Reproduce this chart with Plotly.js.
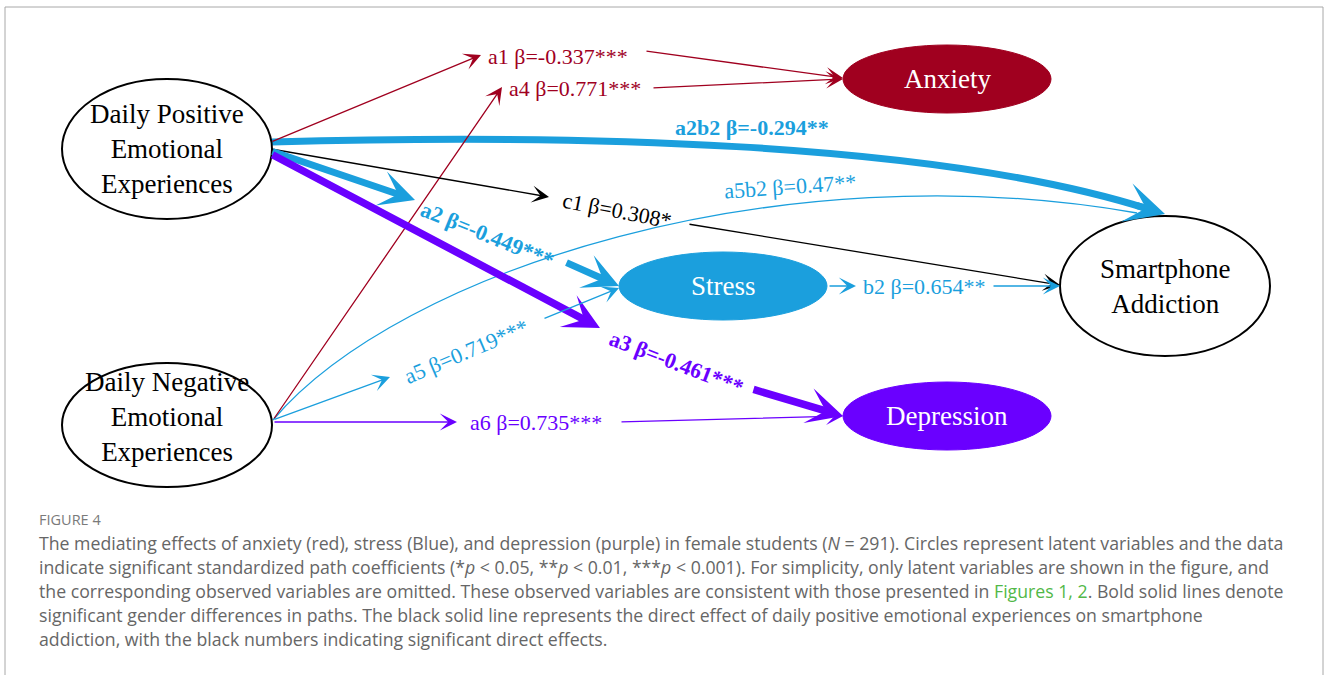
<!DOCTYPE html>
<html>
<head>
<meta charset="utf-8">
<script src="https://cdn.plot.ly/plotly-3.0.1.min.js"></script>
<style>html,body{margin:0;padding:0;background:#fff;}#chart{width:1328px;height:675px;}</style>
</head>
<body>
<div id="chart"></div>
<script>
// ---------------- DATA ----------------
const nodeIds = ['DPEE', 'DNEE', 'ANX', 'STR', 'DEP', 'SA'];
const nodeLabels = ['Daily Positive<br>Emotional<br>Experiences', 'Daily Negative<br>Emotional<br>Experiences',
  'Anxiety', 'Stress', 'Depression', 'Smartphone<br>Addiction'];
const pathIds = ['a1', 'a4', 'a2b2', 'c1', 'a2', 'a3', 'a5b2', 'a5', 'a6', 'b2'];
const pathBetas = ['-0.337', '0.771', '-0.294', '0.308', '-0.449', '-0.461', '0.47', '0.719', '0.735', '0.654'];
const pathStars = ['***', '***', '**', '*', '***', '***', '**', '***', '***', '**'];
const captionHead = 'FIGURE 4';
const captionLines = [
  'The mediating effects of anxiety (red), stress (Blue), and depression (purple) in female students (<i>N</i> = 291). Circles represent latent variables and the data',
  'indicate significant standardized path coefficients (*<i>p</i> &lt; 0.05, **<i>p</i> &lt; 0.01, ***<i>p</i> &lt; 0.001). For simplicity, only latent variables are shown in the figure, and',
  'the corresponding observed variables are omitted. These observed variables are consistent with those presented in <span style="color:#52b848">Figures 1, 2</span>. Bold solid lines denote',
  'significant gender differences in paths. The black solid line represents the direct effect of daily positive emotional experiences on smartphone',
  'addiction, with the black numbers indicating significant direct effects.'
];

// ---------------- STYLE / LAYOUT GEOMETRY ----------------
const RED = '#a0001f', BLUE = '#1b9fdd', PURPLE = '#6a00ff', BLACK = '#000000';
const SERIF = 'Liberation Serif, Times New Roman, serif';
const CAPFONT = 'Open Sans, sans-serif';
const nodeGeom = {
  DPEE: {cx: 167, cy: 149, rx: 105, ry: 70, fill: '#ffffff', line: BLACK, txt: BLACK, ty: 149},
  DNEE: {cx: 167, cy: 425, rx: 105, ry: 62, fill: '#ffffff', line: BLACK, txt: BLACK, ty: 417},
  ANX:  {cx: 947, cy: 79, rx: 104, ry: 34, fill: RED, line: RED, txt: '#ffffff', ty: 79},
  STR:  {cx: 723, cy: 286, rx: 104, ry: 34, fill: BLUE, line: BLUE, txt: '#ffffff', ty: 286},
  DEP:  {cx: 947, cy: 416, rx: 104, ry: 34, fill: PURPLE, line: PURPLE, txt: '#ffffff', ty: 416},
  SA:   {cx: 1165, cy: 286, rx: 105, ry: 70, fill: '#ffffff', line: BLACK, txt: BLACK, ty: 286}
};
const pathGeom = {
  a1:   {c: RED, bold: false, lx: 558, ly: 56, ang: 0, w: 1.3, hs: 2.2,
         seg: [[271, 142, 481, 55], [645, 51, 843, 78]]},
  a4:   {c: RED, bold: false, lx: 575, ly: 88, ang: 0, w: 1.3, hs: 2.2,
         seg: [[273, 420, 502, 87], [652, 88, 843, 79]]},
  a2b2: {c: BLUE, bold: true, lx: 752, ly: 127, ang: 0, w: 7, hs: 0.95,
         curve: [[272, 142], [560, 134], [930, 140], [1148, 209]], head: [1135, 205, 1165, 214]},
  c1:   {c: BLACK, bold: false, lx: 617, ly: 210, ang: 11, w: 1.3, hs: 2.2,
         seg: [[271, 149, 549, 197], [688, 224, 1060, 285]]},
  a2:   {c: BLUE, bold: true, lx: 487, ly: 234, ang: 22, w: 7, hs: 0.85,
         seg: [[271, 151, 415, 200], [565, 262, 619, 286]]},
  a3:   {c: PURPLE, bold: true, lx: 676, ly: 362, ang: 21, w: 7.5, hs: 0.8,
         seg: [[271, 154, 600, 328], [752, 389, 843, 416]]},
  a5b2: {c: BLUE, bold: false, lx: 790, ly: 186, ang: -4, w: 1.3, hs: 2.2,
         curve: [[273, 420], [400, 270], [780, 150], [1137, 213]]},
  a5:   {c: BLUE, bold: false, lx: 466, ly: 351, ang: -23, w: 1.3, hs: 2.2,
         seg: [[273, 420, 390, 377], [543, 319, 619, 288]]},
  a6:   {c: PURPLE, bold: false, lx: 536, ly: 422, ang: 0, w: 1.3, hs: 2.2,
         seg: [[273, 422, 457, 422], [620, 422, 843, 416]]},
  b2:   {c: BLUE, bold: false, lx: 924, ly: 286, ang: 0, w: 1.3, hs: 2.2,
         seg: [[828, 286, 856, 286], [992, 286, 1060, 286]]}
};

// ---------------- BUILD ----------------
const shapes = [];
const annotations = [];

shapes.push({type: 'rect', xref: 'x', yref: 'y', x0: 5, x1: 1323, y0: 7, y1: 720,
  line: {color: '#a8a8a8', width: 1}, fillcolor: 'rgba(0,0,0,0)', layer: 'below'});

pathIds.forEach(function (id) {
  const g = pathGeom[id];
  if (g.curve) {
    const p = g.curve;
    shapes.push({type: 'path', xref: 'x', yref: 'y',
      path: 'M' + p[0][0] + ',' + p[0][1] + ' C' + p[1][0] + ',' + p[1][1] + ' ' + p[2][0] + ',' + p[2][1] + ' ' + p[3][0] + ',' + p[3][1],
      line: {color: g.c, width: g.w}, fillcolor: 'rgba(0,0,0,0)'});
    if (g.head) {
      annotations.push({xref: 'x', yref: 'y', axref: 'x', ayref: 'y', x: g.head[2], y: g.head[3],
        ax: g.head[0], ay: g.head[1], text: '', showarrow: true, arrowhead: 3,
        arrowwidth: g.w, arrowsize: g.hs, arrowcolor: g.c, standoff: 0});
    }
  }
});

nodeIds.forEach(function (id, i) {
  const n = nodeGeom[id];
  shapes.push({type: 'circle', xref: 'x', yref: 'y', x0: n.cx - n.rx, x1: n.cx + n.rx,
    y0: n.cy - n.ry, y1: n.cy + n.ry, fillcolor: n.fill,
    line: {color: n.line, width: n.fill === '#ffffff' ? 2 : 1}});
  annotations.push({xref: 'x', yref: 'y', x: n.cx, y: n.ty, text: nodeLabels[i], showarrow: false,
    font: {family: SERIF, size: 27, color: n.txt}, align: 'center', xanchor: 'center', yanchor: 'middle'});
});

pathIds.forEach(function (id, i) {
  const g = pathGeom[id];
  (g.seg || []).forEach(function (s) {
    annotations.push({xref: 'x', yref: 'y', axref: 'x', ayref: 'y', x: s[2], y: s[3], ax: s[0], ay: s[1],
      text: '', showarrow: true, arrowhead: 3, arrowwidth: g.w, arrowsize: g.hs,
      arrowcolor: g.c, standoff: 0});
  });
  let label = id + ' β=' + pathBetas[i] + pathStars[i];
  if (g.bold) label = '<b>' + label + '</b>';
  annotations.push({xref: 'x', yref: 'y', x: g.lx, y: g.ly, text: label, showarrow: false,
    textangle: g.ang, font: {family: SERIF, size: 22, color: g.c}, xanchor: 'center', yanchor: 'middle'});
});

annotations.push({xref: 'x', yref: 'y', x: 37, y: 519, text: captionHead, showarrow: false,
  xanchor: 'left', yanchor: 'middle', font: {family: CAPFONT, size: 14.5, color: '#7a7a7a'}});
captionLines.forEach(function (t, i) {
  annotations.push({xref: 'x', yref: 'y', x: 37, y: 543 + 24 * i, text: t, showarrow: false,
    xanchor: 'left', yanchor: 'middle', align: 'left',
    font: {family: CAPFONT, size: 17.7, color: '#666666'}});
});

const layout = {
  width: 1328, height: 675, margin: {l: 0, r: 0, t: 0, b: 0},
  paper_bgcolor: '#ffffff', plot_bgcolor: '#ffffff', showlegend: false,
  xaxis: {range: [0, 1328], visible: false, fixedrange: true},
  yaxis: {range: [675, 0], visible: false, fixedrange: true},
  shapes: shapes, annotations: annotations
};
Plotly.newPlot('chart', [], layout, {displayModeBar: false, staticPlot: true});
</script>
</body>
</html>
